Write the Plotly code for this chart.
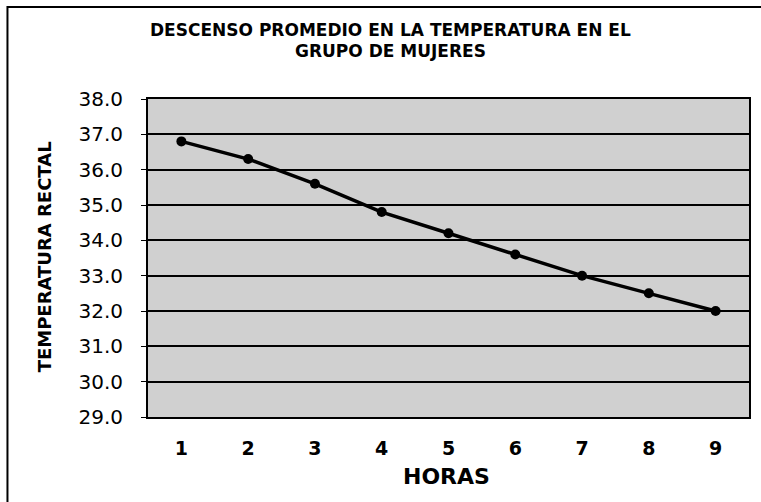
import plotly.graph_objects as go

horas = [1, 2, 3, 4, 5, 6, 7, 8, 9]
hora_labels = ["1", "2", "3", "4", "5", "6", "7", "8", "9"]
temperatura = [36.8, 36.3, 35.6, 34.8, 34.2, 33.6, 33.0, 32.5, 32.0]
y_ticks = [29, 30, 31, 32, 33, 34, 35, 36, 37, 38]
y_tick_labels = [f"{v:.1f}" for v in y_ticks]

title_line1 = "DESCENSO PROMEDIO EN LA TEMPERATURA EN EL"
title_line2 = "GRUPO DE MUJERES"
x_title = "HORAS"
y_title = "TEMPERATURA RECTAL"

FONT = "DejaVu Sans"

# plot area in pixels
L, R, T, B = 148, 751, 99, 417
W, H = 761, 502
pw, ph = R - L, B - T

def px_x(p):
    return (p - L) / pw

def px_y(p):
    return (B - p) / ph

fig = go.Figure()
fig.add_trace(go.Scatter(
    x=horas, y=temperatura, mode="lines+markers",
    line=dict(color="black", width=3.5),
    marker=dict(color="black", size=10, symbol="circle"),
    showlegend=False, hoverinfo="skip",
))

fig.update_layout(
    width=W, height=H,
    margin=dict(l=L, r=W - R, t=T, b=H - B, pad=0),
    paper_bgcolor="white",
    plot_bgcolor="#d0d0d0",
    font=dict(family=FONT, color="black"),
    xaxis=dict(
        range=[0.5, 9.5], tickvals=horas, ticktext=hora_labels,
        showgrid=False, zeroline=False,
        showline=True, linecolor="black", linewidth=2, mirror=True,
        ticks="", tickfont=dict(family=FONT, size=19, color="black", weight="bold"),
        ticklabelstandoff=13,
    ),
    yaxis=dict(
        range=[29, 38], tickvals=y_ticks, ticktext=y_tick_labels,
        showgrid=True, gridcolor="black", gridwidth=2, zeroline=False,
        showline=True, linecolor="black", linewidth=2, mirror=True,
        ticks="outside", ticklen=5, tickwidth=1, tickcolor="black",
        tickfont=dict(family=FONT, size=20, color="black"),
        ticklabelstandoff=14,
    ),
    shapes=[
        dict(type="rect", xref="paper", yref="paper",
             x0=px_x(7), x1=px_x(W + 20), y0=px_y(7), y1=px_y(H + 20),
             line=dict(color="black", width=2), fillcolor="rgba(0,0,0,0)", layer="below"),
    ],
    annotations=[
        dict(text=title_line1, xref="paper", yref="paper", x=px_x(391), y=px_y(30),
             xanchor="center", yanchor="middle", showarrow=False,
             font=dict(family=FONT, size=17, color="black", weight="bold")),
        dict(text=title_line2, xref="paper", yref="paper", x=px_x(391), y=px_y(51),
             xanchor="center", yanchor="middle", showarrow=False,
             font=dict(family=FONT, size=17, color="black", weight="bold")),
        dict(text=x_title, xref="paper", yref="paper", x=px_x(447), y=px_y(476.5),
             xanchor="center", yanchor="middle", showarrow=False,
             font=dict(family=FONT, size=22, color="black", weight="bold")),
        dict(text=y_title, xref="paper", yref="paper", x=px_x(44), y=px_y(257),
             xanchor="center", yanchor="middle", showarrow=False, textangle=-90,
             font=dict(family=FONT, size=18, color="black", weight="bold")),
    ],
)

fig.write_html("out.html")
